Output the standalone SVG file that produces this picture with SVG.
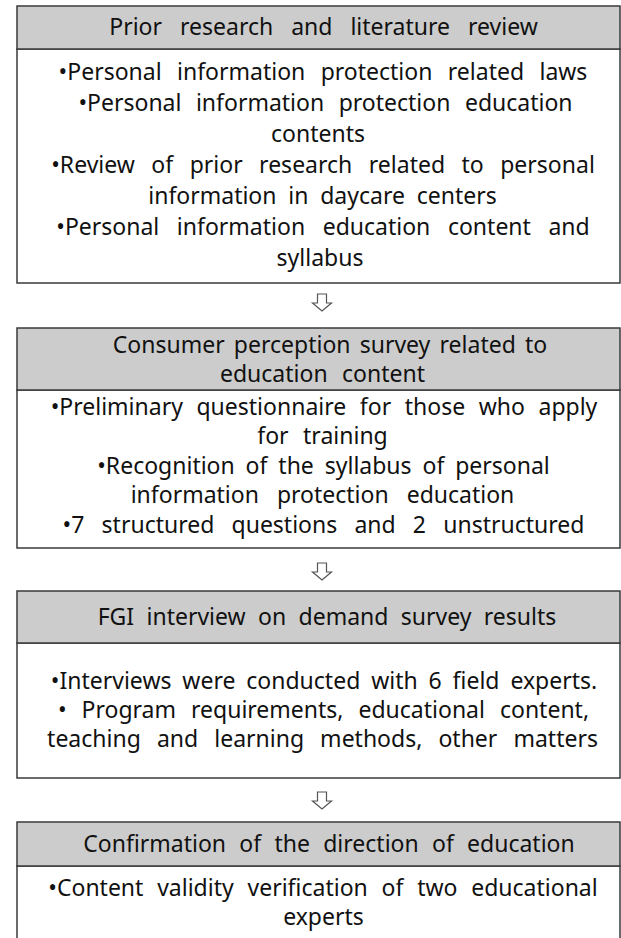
<svg xmlns="http://www.w3.org/2000/svg" width="621" height="938" viewBox="0 0 621 938">
<style>
.hdr{fill:#cccccc;stroke:#3a3a3a;stroke-width:1.5}
.body{fill:#ffffff;stroke:#3a3a3a;stroke-width:1.5}
text{font-family:"Noto Sans","Liberation Sans",sans-serif;font-size:23px;fill:#111;text-anchor:middle}
.arrow{fill:#ffffff;stroke:#555;stroke-width:1.2}
</style>
<defs>
<polygon id="darrow" class="arrow" points="-4.5,0 4.5,0 4.5,9 9.5,9 0,17 -9.5,9 -4.5,9"/>
</defs>
<rect width="621" height="938" fill="#ffffff"/>
<g id="node1">
<rect class="body" x="17" y="49" width="603" height="234"/>
<rect class="hdr" x="17" y="6" width="603" height="43"/>
<text x="323.5" y="35" style="word-spacing:12px">Prior research and literature review</text>
<text x="323" y="80" style="word-spacing:9.4px">•Personal information protection related laws</text>
<text x="325.5" y="111" style="word-spacing:8.5px">•Personal information protection education</text>
<text x="318" y="142">contents</text>
<text x="323" y="173" style="word-spacing:10.5px">•Review of prior research related to personal</text>
<text x="322.5" y="204" style="word-spacing:5.8px">information in daycare centers</text>
<text x="323" y="235" style="word-spacing:11.6px">•Personal information education content and</text>
<text x="320" y="266">syllabus</text>
</g>
<g id="node2">
<rect class="body" x="17" y="390" width="603" height="158"/>
<rect class="hdr" x="17" y="328" width="603" height="62"/>
<text x="330" y="353" style="word-spacing:3.2px">Consumer perception survey related to</text>
<text x="322.5" y="382" style="word-spacing:8.4px">education content</text>
<text x="324" y="415" style="word-spacing:7.6px">•Preliminary questionnaire for those who apply</text>
<text x="322.5" y="444" style="word-spacing:8.5px">for training</text>
<text x="323.5" y="474" style="word-spacing:4.9px">•Recognition of the syllabus of personal</text>
<text x="322.5" y="503" style="word-spacing:12px">information protection education</text>
<text x="323.5" y="533" style="word-spacing:11.2px">•7 structured questions and 2 unstructured</text>
</g>
<g id="node3">
<rect class="body" x="17" y="643" width="603" height="135"/>
<rect class="hdr" x="17" y="591" width="603" height="52"/>
<text x="327" y="625" style="word-spacing:6.4px">FGI interview on demand survey results</text>
<text x="324" y="689" style="word-spacing:4.9px">•Interviews were conducted with 6 field experts.</text>
<text x="323.5" y="718" style="word-spacing:9px">• Program requirements, educational content,</text>
<text x="322.5" y="747" style="word-spacing:10.1px">teaching and learning methods, other matters</text>
</g>
<g id="node4">
<rect class="body" x="17" y="866" width="603" height="90"/>
<rect class="hdr" x="17" y="822" width="603" height="44"/>
<text x="329" y="852" style="word-spacing:7.3px">Confirmation of the direction of education</text>
<text x="323" y="896" style="word-spacing:7.8px">•Content validity verification of two educational</text>
<text x="323.5" y="925">experts</text>
</g>
<g id="connectors">
<use href="#darrow" x="322" y="294"/>
<use href="#darrow" x="322" y="563"/>
<use href="#darrow" x="322" y="792"/>
</g>
</svg>
